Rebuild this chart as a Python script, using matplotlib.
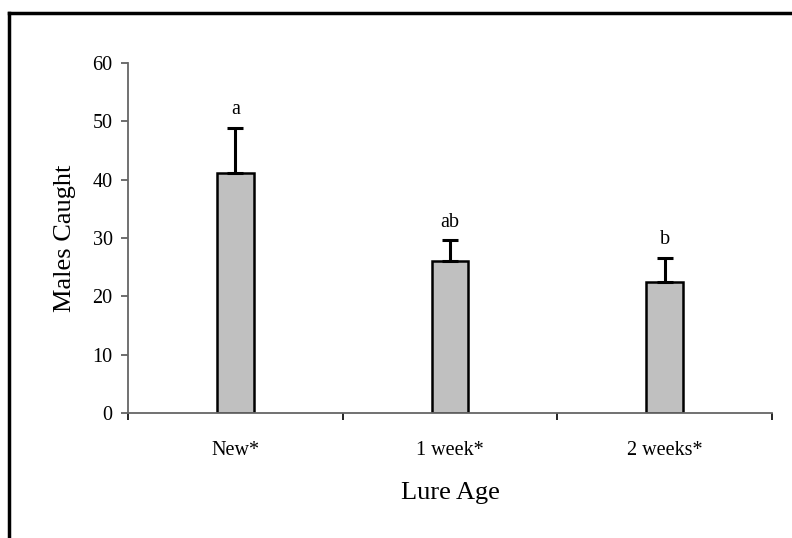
import matplotlib.pyplot as plt
import numpy as np

# data
categories = ['New*', '1 week*', '2 weeks*']
males_caught = [41.1, 26.0, 22.4]
errors = [7.8, 3.6, 4.2]
letters = ['a', 'ab', 'b']

plt.rcParams['font.family'] = ['Liberation Serif', 'DejaVu Serif']

fig = plt.figure(figsize=(7.92, 5.38), dpi=100)
ax = fig.add_axes([128 / 792, 1 - 413 / 538, 644 / 792, 350 / 538])

x = np.arange(len(categories))
ax.bar(x, males_caught, width=0.17, color='#c0c0c0', edgecolor='black', linewidth=1.8, zorder=2)
ax.errorbar(x, males_caught, yerr=[np.zeros(len(errors)), errors], fmt='none',
            ecolor='black', elinewidth=2.2, capsize=5.8, capthick=2.2, zorder=3)

for xi, v, e, lab in zip(x, males_caught, errors, letters):
    ax.text(xi, v + e + 1.5, lab, ha='center', va='bottom', fontsize=14.5)

ax.set_xlim(-0.5, len(categories) - 0.5)
ax.set_ylim(0, 60)
ax.set_yticks(range(0, 61, 10))
ax.set_xticks(x)
ax.set_xticklabels(categories, fontsize=14.5)
ax.tick_params(axis='y', labelsize=14.5, direction='out', length=5, color='#555555', width=1.2, pad=6)
ax.tick_params(axis='x', which='major', length=0, pad=20)
ax.set_xticks(np.arange(-0.5, len(categories)), minor=True)
ax.tick_params(axis='x', which='minor', direction='out', length=5, color='black', width=1.2)

for s in ['top', 'right']:
    ax.spines[s].set_visible(False)
for s in ['left', 'bottom']:
    ax.spines[s].set_color('#666666')
    ax.spines[s].set_linewidth(1.3)

ax.set_ylabel('Males Caught', fontsize=19, labelpad=12)
ax.set_xlabel('Lure Age', fontsize=19, labelpad=16)

# frame lines (top and left) around the figure
fig.add_artist(plt.Line2D([9 / 792, 1], [1 - 13 / 538, 1 - 13 / 538], color='black', linewidth=2.5))
fig.add_artist(plt.Line2D([9 / 792, 9 / 792], [0, 1 - 13 / 538], color='black', linewidth=2.5))

fig.savefig('out.png', dpi=100)
